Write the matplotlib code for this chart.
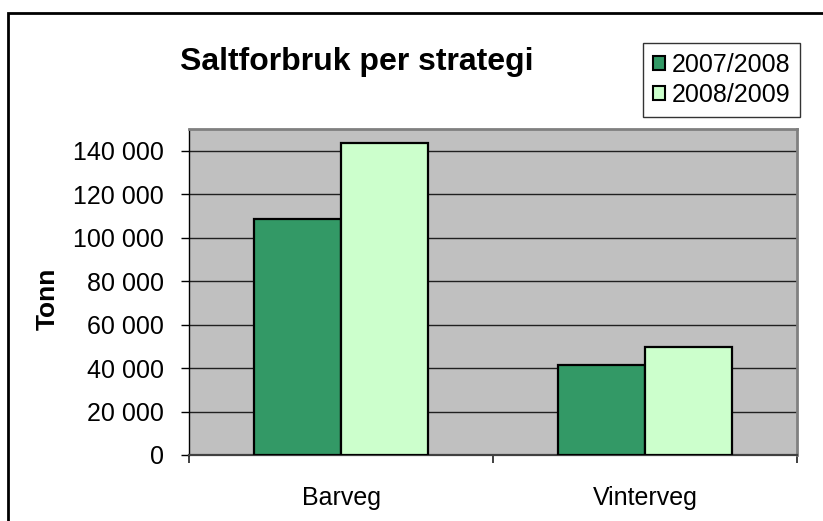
import numpy as np
import matplotlib
matplotlib.use('Agg')
import matplotlib.pyplot as plt
from matplotlib.patches import Rectangle
from matplotlib.ticker import FuncFormatter, FixedLocator

plt.rcParams['font.family'] = ['Liberation Sans', 'DejaVu Sans']

# data
kategorier = ['Barveg', 'Vinterveg']
sesonger = ['2007/2008', '2008/2009']
tonn_0708 = [108700, 41200]
tonn_0809 = [143600, 49500]
farger = ['#339966', '#CCFFCC']

W, H = 823, 521
fig = plt.figure(figsize=(W / 100, H / 100), dpi=100)
fig.patch.set_facecolor('white')

# plot area in pixels: x 189-797, y 129-455
ax = fig.add_axes([189 / W, 1 - 455 / H, 608 / W, (455 - 129) / H])
ax.set_facecolor('#C0C0C0')

x = np.arange(len(kategorier))
bredde = 0.286
ax.bar(x - bredde / 2, tonn_0708, bredde, color=farger[0], edgecolor='black',
       linewidth=1.6, label=sesonger[0], zorder=3)
ax.bar(x + bredde / 2, tonn_0809, bredde, color=farger[1], edgecolor='black',
       linewidth=1.6, label=sesonger[1], zorder=3)

ax.set_xlim(-0.5, len(kategorier) - 0.5)
ax.set_ylim(0, 150000)
ax.set_yticks(np.arange(0, 140001, 20000))
ax.yaxis.set_major_formatter(FuncFormatter(lambda v, p: f'{int(v):,}'.replace(',', ' ')))
ax.yaxis.grid(True, color='#202020', linewidth=1.0)
ax.set_axisbelow(True)

ax.set_xticks(x)
ax.set_xticklabels(kategorier)
ax.xaxis.set_minor_locator(FixedLocator(np.arange(-0.5, len(kategorier), 1.0)))
ax.tick_params(axis='x', which='major', length=0, pad=22, labelsize=18)
ax.tick_params(axis='x', which='minor', length=6, width=1.2, direction='out', color='#202020')
ax.tick_params(axis='y', length=6, width=1.0, direction='out', pad=12, labelsize=18)

ax.spines['left'].set_color('black')
ax.spines['left'].set_linewidth(1.0)
ax.spines['bottom'].set_color('#404040')
ax.spines['bottom'].set_linewidth(1.6)
for s in ['top', 'right']:
    ax.spines[s].set_color('#808080')
    ax.spines[s].set_linewidth(2.0)

fig.text(357 / W, 1 - 62 / H, 'Saltforbruk per strategi', ha='center', va='center',
         fontsize=23, fontweight='bold')
fig.text(48 / W, 1 - 299 / H, 'Tonn', ha='center', va='center', rotation=90,
         fontsize=19, fontweight='bold')

handles = [Rectangle((0, 0), 1, 1, facecolor=c, edgecolor='black', linewidth=1.5) for c in farger]
leg = fig.legend(handles, sesonger, loc='upper right',
                 bbox_to_anchor=(800 / W, 1 - 43 / H), bbox_transform=fig.transFigure,
                 fontsize=18, frameon=True, fancybox=False, edgecolor='black',
                 handlelength=0.5, handleheight=0.5, handletextpad=0.25,
                 labelspacing=0.22, borderpad=0.4, borderaxespad=0)
leg.get_frame().set_linewidth(1.0)

# outer chart border, cut off at right and bottom like the reference
fig.patches.append(Rectangle((8 / W, -0.1), 1.0, 1.1 - 13 / H, transform=fig.transFigure,
                             fill=False, edgecolor='black', linewidth=2.0))

fig.savefig('out.png', dpi=100)
